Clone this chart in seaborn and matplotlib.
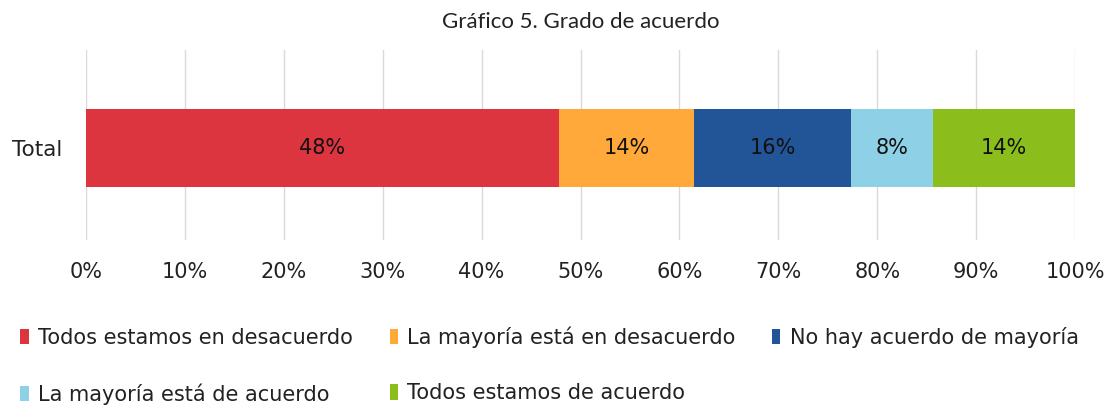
import matplotlib
matplotlib.use("Agg")
import matplotlib.pyplot as plt
import seaborn as sns
import numpy as np
import pandas as pd
from matplotlib.patches import Patch

categories = ["Todos estamos en desacuerdo", "La mayoría está en desacuerdo",
              "No hay acuerdo de mayoría", "La mayoría está de acuerdo",
              "Todos estamos de acuerdo"]
values = [47.8, 13.7, 15.9, 8.2, 14.4]
colors = ["#DC3540", "#FFA93A", "#215597", "#8ED0E6", "#8BBE1C"]
row_label = "Total"
title = "Gráfico 5. Grado de acuerdo"
xticks = [0, 10, 20, 30, 40, 50, 60, 70, 80, 90, 100]

sns.set_theme(style="white")
plt.rcParams['font.family'] = ['DejaVu Sans']

fig = plt.figure(figsize=(11.05, 4.07), dpi=100)
ax = fig.add_axes([86/1105, 1-240/407, (1075-86)/1105, 190/407])

cum = np.cumsum(values)
# draw cumulative bars from largest to smallest so they stack
for i in range(len(values)-1, -1, -1):
    df = pd.DataFrame({"cat": [row_label], "val": [cum[i]]})
    sns.barplot(data=df, x="val", y="cat", color=colors[i], orient="h",
                width=0.41, ax=ax, saturation=1, linewidth=0, zorder=3)

starts = np.concatenate([[0], cum[:-1]])
for s, v in zip(starts, values):
    ax.text(s + v/2, 0, f"{round(v):d}%", ha="center", va="center",
            fontsize=15, color="#111111", zorder=5)

ax.set_xlim(0, 100)
ax.set_ylim(0.485, -0.515)
ax.set_xticks(xticks)
ax.set_xticklabels([f"{t}%" for t in xticks], fontsize=15, color="#222222")
ax.tick_params(axis="x", pad=16, length=0)
ax.tick_params(axis="y", pad=17, length=0, labelsize=15.5, labelcolor="#222222")
ax.set_xlabel("")
ax.set_ylabel("")
ax.grid(axis="x", color="#d9d9d9", linewidth=1, zorder=0)
ax.set_axisbelow(True)
for sp in ax.spines.values():
    sp.set_visible(False)

fig.text(581/1105, 1-22/407, title, ha="center", va="center", fontsize=16,
         color="#222222", family=["Lato", "DejaVu Sans"])

handles = [Patch(facecolor=c, edgecolor="none") for c in colors]
order = [0, 3, 1, 4, 2]
fig.legend([handles[i] for i in order], [categories[i] for i in order],
           loc="upper left", bbox_to_anchor=(0.011, 1-318/407),
           ncol=3, frameon=False, fontsize=15, handlelength=0.4, handleheight=0.75,
           handletextpad=0.45, columnspacing=1.75, labelspacing=1.7,
           labelcolor="#222222", borderaxespad=0)

fig.savefig("out.png", dpi=100, facecolor="white")
